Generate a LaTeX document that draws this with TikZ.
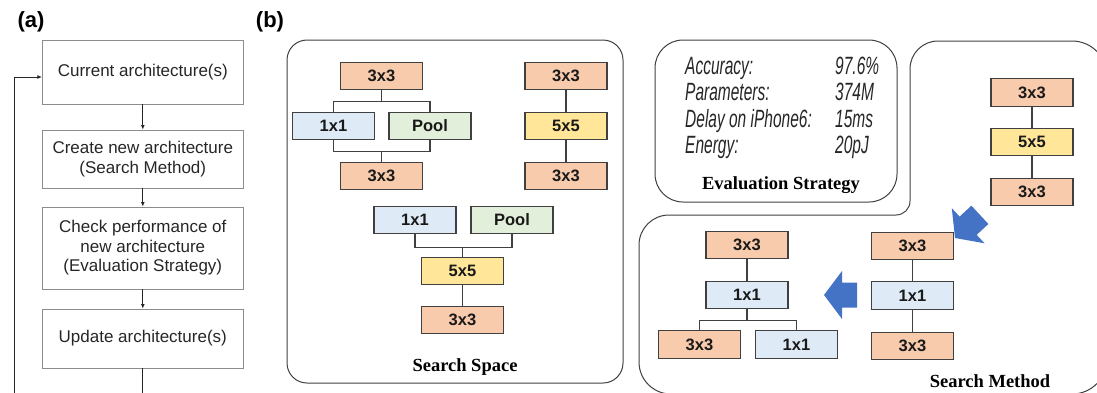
\documentclass[tikz,border=0pt]{standalone}
\usepackage{fontspec}
\setmainfont{Liberation Sans}
\newfontfamily\titlefont{Liberation Serif}
\newfontfamily\metricfont{Liberation Sans}[FakeStretch=0.62,ItalicFeatures={FakeStretch=0.62}]
\usetikzlibrary{calc,arrows.meta}

\definecolor{convthree}{HTML}{F8CBAD}
\definecolor{convone}{HTML}{DEEBF7}
\definecolor{convfive}{HTML}{FFE699}
\definecolor{poolgreen}{HTML}{E2EFDA}
\definecolor{opedge}{HTML}{404040}
\definecolor{flowgray}{HTML}{8C8C8C}
\definecolor{textgray}{HTML}{262626}
\definecolor{moveblue}{HTML}{4472C4}

\tikzset{
  flow/.style={draw=flowgray, line width=0.8pt, minimum width=201pt, inner sep=0pt,
    align=center, text=textgray, font=\fontsize{17}{19.5}\selectfont},
  flowline/.style={draw=black!85, line width=0.9pt},
  flowarrow/.style={flowline, -{Latex[length=4.5pt,width=4pt]}},
  op/.style={draw=opedge, line width=1.1pt, minimum width=82pt, minimum height=27.5pt,
    inner sep=0pt, font=\fontsize{16.5}{18}\selectfont\bfseries, text=black!90},
  cthree/.style={op, fill=convthree},
  cone/.style={op, fill=convone},
  cfive/.style={op, fill=convfive},
  cpool/.style={op, fill=poolgreen},
  link/.style={draw=opedge, line width=1.1pt},
  frame/.style={draw=black!75, line width=1pt},
  paneltitle/.style={font=\titlefont\bfseries\fontsize{18.5}{20}\selectfont, inner sep=0pt},
  metric/.style={font=\metricfont\itshape\fontsize{25}{27}\selectfont, text=black!85,
    inner sep=0pt, anchor=base west},
  sublabel/.style={font=\bfseries\fontsize{22}{24}\selectfont, inner sep=0pt},
  blockarrow/.style={fill=moveblue}
}

\begin{document}
\begin{tikzpicture}[x=1pt,y=-1pt]
\useasboundingbox (0,0) rectangle (1097,392);
\begin{scope}
\clip (0,0) rectangle (1097,392);

% ---------- (a) search loop ----------
\node[sublabel] (la) at (31,22) {(a)};
\node[sublabel] (lb) at (270,22) {(b)};

\node[flow, minimum height=64pt] (cur) at (142.8,72) {Current architecture(s)};
\node[flow, minimum height=58pt] (new) at (142.8,159) {Create new architecture\\(Search Method)};
\node[flow, minimum height=82pt] (chk) at (142.8,248) {Check performance of\\new architecture\\(Evaluation Strategy)};
\node[flow, minimum height=59pt] (upd) at (142.8,338.5) {Update architecture(s)};

\draw[flowarrow] (cur) -- (new);
\draw[flowarrow] (new) -- (chk);
\draw[flowarrow] (chk) -- (upd);

\coordinate (loopdown) at (142.8,400);
\coordinate (loopleft) at (14,400);
\draw[flowline] (upd.south) -- (loopdown);
\draw[flowarrow] (loopleft) |- ($(cur.west)+(0,5)$);

% ---------- (b) search space ----------
\draw[frame, rounded corners=20] (287,40) rectangle (623,383);

\node[cthree] (ssA) at (381.5,76) {3x3};
\node[cone]   (ssB) at (333.5,126) {1x1};
\node[cpool]  (ssC) at (430,126) {Pool};
\node[cthree] (ssD) at (381.5,176) {3x3};
\draw[link] (ssA.south) -- ++(0,11) -| (ssB.north);
\draw[link] (ssA.south) -- ++(0,11) -| (ssC.north);
\draw[link] (ssB.south) -- ++(0,11) -| (ssD.north);
\draw[link] (ssC.south) -- ++(0,11) -| (ssD.north);

\node[cthree] (ssE) at (566,76) {3x3};
\node[cfive]  (ssF) at (566,126) {5x5};
\node[cthree] (ssG) at (566,176) {3x3};
\draw[link] (ssE) -- (ssF) -- (ssG);

\node[cone]   (ssH) at (415,220) {1x1};
\node[cpool]  (ssI) at (512,220) {Pool};
\node[cfive]  (ssJ) at (462.5,271) {5x5};
\node[cthree] (ssK) at (462.5,320) {3x3};
\draw[link] (ssH.south) -- ++(0,13) -| (ssJ.north);
\draw[link] (ssI.south) -- ++(0,13) -| (ssJ.north);
\draw[link] (ssJ) -- (ssK);

\node[paneltitle] (ssTitle) at (465,367) {Search Space};

% ---------- evaluation strategy ----------
\draw[frame, rounded corners=28] (655,40) rectangle (897,202);
\node[metric] (accK) at (685,74) {Accuracy:};
\node[metric] (accV) at (835,74) {97.6\%};
\node[metric] (parK) at (685,100.5) {Parameters:};
\node[metric] (parV) at (835,100.5) {374M};
\node[metric] (delK) at (685,127) {Delay on iPhone6:};
\node[metric] (delV) at (835,127) {15ms};
\node[metric] (engK) at (685,153.5) {Energy:};
\node[metric] (engV) at (835,153.5) {20pJ};
\node[paneltitle] (esTitle) at (781,185) {Evaluation Strategy};

% ---------- search method ----------
\draw[frame] (639,300)
  [rounded corners=30] -- (639,215)
  [rounded corners=14] -- (910,215)
  [rounded corners=28] -- (910,41)
  [rounded corners=35] -- (1107,41) -- (1107,394)
  [rounded corners=32] -- (639,394) -- cycle;

\node[cthree] (smA) at (1032,92.5) {3x3};
\node[cfive]  (smB) at (1032,142) {5x5};
\node[cthree] (smC) at (1032,192) {3x3};
\draw[link] (smA) -- (smB) -- (smC);

\node[cthree] (smD) at (912.5,246) {3x3};
\node[cone]   (smE) at (912.5,295.5) {1x1};
\node[cthree] (smF) at (912.5,346) {3x3};
\draw[link] (smD) -- (smE) -- (smF);

\node[cthree] (smG) at (747,245) {3x3};
\node[cone]   (smH) at (747,295) {1x1};
\node[cthree] (smI) at (699.5,344.5) {3x3};
\node[cone]   (smJ) at (796.5,344.5) {1x1};
\draw[link] (smG) -- (smH);
\draw[link] (smH.south) -- ++(0,11.5) -| (smI.north);
\draw[link] (smH.south) -- ++(0,11.5) -| (smJ.north);

% block arrows showing the mutation steps
\fill[blockarrow, shift={(955,238)}, rotate=223]
  (0,0) -- (-18,-24) -- (-18,-12.5) -- (-34,-12.5) -- (-34,12.5) -- (-18,12.5) -- (-18,24) -- cycle;
\fill[blockarrow, shift={(824,295)}, rotate=180]
  (0,0) -- (-18,-24) -- (-18,-12.5) -- (-33,-12.5) -- (-33,12.5) -- (-18,12.5) -- (-18,24) -- cycle;

\node[paneltitle] (smTitle) at (990,381) {Search Method};
\end{scope}
\end{tikzpicture}
\end{document}
